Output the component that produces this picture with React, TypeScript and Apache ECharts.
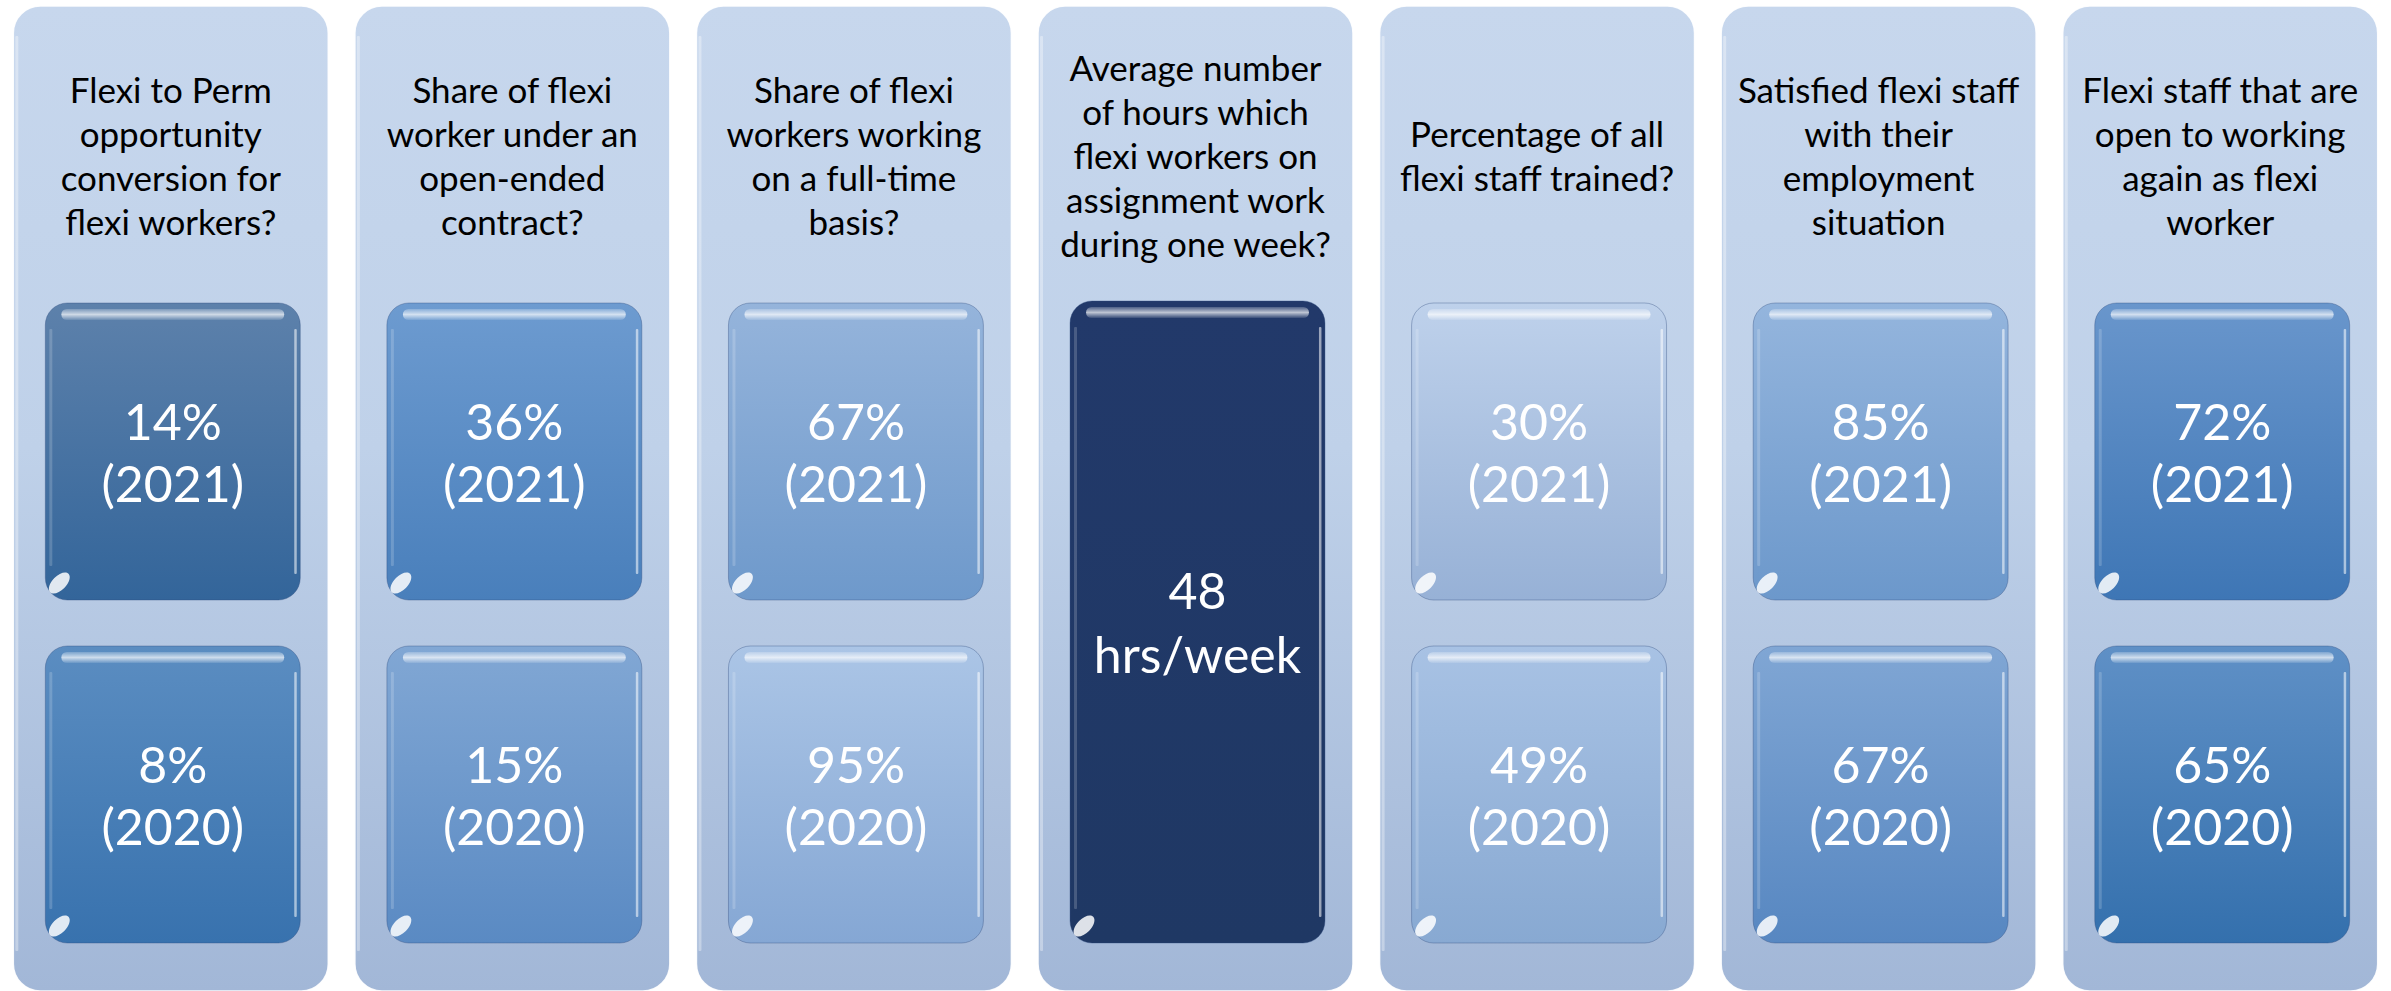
import React, { useEffect, useRef } from "react";
import * as echarts from "echarts";

// ---- Data ----
const questions: string[] = [
  "Flexi to Perm\nopportunity\nconversion for\nflexi workers?",
  "Share of flexi\nworker under an\nopen-ended\ncontract?",
  "Share of flexi\nworkers working\non a full-time\nbasis?",
  "Average number\nof hours which\nflexi workers on\nassignment work\nduring one week?",
  "Percentage of all\nflexi staff trained?",
  "Satisfied flexi staff\nwith their\nemployment\nsituation",
  "Flexi staff that are\nopen to working\nagain as flexi\nworker",
];
const share2021: (number | null)[] = [14, 36, 67, null, 30, 85, 72];
const share2020: (number | null)[] = [8, 15, 95, null, 49, 67, 65];
const avgHours: (number | null)[] = [null, null, null, 48, null, null, null];
const yearLabels: string[] = ["2021", "2020"];

// ---- Styles (kept apart from the data) ----
const upperColors: [string, string][] = [
  ["#5d81ab", "#33659a"],
  ["#6d9bd0", "#497fbb"],
  ["#95b4db", "#6e99cb"],
  ["#22396a", "#1f3864"],
  ["#bed1eb", "#97b1d6"],
  ["#94b5dd", "#6c98cb"],
  ["#6996cc", "#3e76b5"],
];
const lowerColors: [string, string][] = [
  ["#5b8dc1", "#3872ae"],
  ["#81a7d4", "#5a8ac3"],
  ["#abc5e6", "#85a7d4"],
  ["#22396a", "#1f3864"],
  ["#a8c2e4", "#88a9d2"],
  ["#80a6d4", "#5787c1"],
  ["#5f90c6", "#3470ad"],
];

const FONT = "Lato, 'Open Sans', sans-serif";

export default function App() {
  const ref = useRef<HTMLDivElement>(null);

  useEffect(() => {
    if (!ref.current) return;
    const chart = echarts.init(ref.current, null, { renderer: "svg" });

    const grad = (c: [string, string]) =>
      new echarts.graphic.LinearGradient(0, 0, 0, 1, [
        { offset: 0, color: c[0] },
        { offset: 1, color: c[1] },
      ]);

    const glossBox = (
      x: number,
      y: number,
      w: number,
      h: number,
      colors: [string, string],
      lines: string,
      fontSize: number,
      lineHeight: number
    ) => {
      const r = 22;
      return [
        {
          type: "rect",
          shape: { x, y, width: w, height: h, r },
          style: {
            fill: grad(colors),
            stroke: "rgba(40,70,120,0.35)",
            lineWidth: 1,
          },
        },
        // top highlight
        {
          type: "rect",
          shape: { x: x + 16, y: y + 6, width: w - 32, height: 11, r: 5.5 },
          style: {
            fill: new echarts.graphic.LinearGradient(0, 0, 0, 1, [
              { offset: 0, color: "rgba(255,255,255,0.2)" },
              { offset: 0.5, color: "rgba(255,255,255,0.7)" },
              { offset: 1, color: "rgba(255,255,255,0.1)" },
            ]),
          },
        },
        // right edge glint
        {
          type: "rect",
          shape: { x: x + w - 6, y: y + 26, width: 2.5, height: h - 52, r: 1 },
          style: { fill: "rgba(255,255,255,0.55)" },
        },
        // left edge glint
        {
          type: "rect",
          shape: { x: x + 4, y: y + 26, width: 3, height: h - 60, r: 1 },
          style: { fill: "rgba(255,255,255,0.18)" },
        },
        // bottom-left spot
        {
          type: "ellipse",
          x: x + 14,
          y: y + h - 17,
          rotation: Math.PI / 4,
          shape: { cx: 0, cy: 0, rx: 13, ry: 7 },
          style: { fill: "rgba(255,255,255,0.85)" },
        },
        {
          type: "text",
          style: {
            text: lines,
            x: x + w / 2,
            y: y + h / 2,
            align: "center",
            verticalAlign: "middle",
            fontSize,
            lineHeight,
            fontFamily: FONT,
            fill: "#ffffff",
          },
        },
      ];
    };

    const renderItem = (params: any, api: any) => {
      const i = api.value(0);
      const c = api.coord([i, 0]);
      const bw = api.size([1, 0])[0];
      const Y = (v: number) => api.coord([i, v])[1];
      const pw = bw * 0.922;
      const px = c[0] - pw / 2;
      const top = Y(6);
      const bottom = Y(991);
      const bx = px + 32;
      const bwid = pw - 60;
      const children: any[] = [
        {
          type: "rect",
          shape: { x: px, y: top, width: pw, height: bottom - top, r: 27 },
          style: {
            fill: new echarts.graphic.LinearGradient(0, 0, 0, 1, [
              { offset: 0, color: "#c7d7ed" },
              { offset: 0.45, color: "#bfd1e9" },
              { offset: 1, color: "#a2b7d7" },
            ]),
            stroke: "rgba(255,255,255,0.9)",
            lineWidth: 1.5,
          },
        },
        {
          type: "rect",
          shape: { x: px + 2, y: top + 30, width: 3, height: bottom - top - 70, r: 1 },
          style: { fill: "rgba(255,255,255,0.35)" },
        },
        {
          type: "text",
          style: {
            text: questions[i],
            x: c[0],
            y: Y(155),
            align: "center",
            verticalAlign: "middle",
            fontSize: 35,
            lineHeight: 44,
            fontFamily: FONT,
            fill: "#000000",
          },
        },
      ];
      if (avgHours[i] != null) {
        children.push(
          ...glossBox(bx, Y(301), bwid, Y(943) - Y(301), upperColors[i], `${avgHours[i]}\nhrs/week`, 50, 64)
        );
      } else {
        children.push(
          ...glossBox(bx, Y(303), bwid, Y(600) - Y(303), upperColors[i], `${share2021[i]}%\n(${yearLabels[0]})`, 50, 62)
        );
        children.push(
          ...glossBox(bx, Y(646), bwid, Y(943) - Y(646), lowerColors[i], `${share2020[i]}%\n(${yearLabels[1]})`, 50, 62)
        );
      }
      return { type: "group", children };
    };

    chart.setOption({
      animation: false,
      backgroundColor: "#ffffff",
      grid: { left: -3, right: -3, top: 0, bottom: 0 },
      xAxis: { type: "category", data: questions, show: false },
      yAxis: { type: "value", min: 0, max: 991, inverse: true, show: false },
      series: [
        {
          type: "custom",
          renderItem,
          encode: { x: 0, y: 1 },
          data: questions.map((_, i) => [i, 0]),
          clip: false,
        },
      ],
    });

    return () => chart.dispose();
  }, []);

  return (
    <div
      ref={ref}
      style={{ position: "fixed", left: 0, top: 0, width: 2391, height: 991, background: "#fff" }}
    />
  );
}
